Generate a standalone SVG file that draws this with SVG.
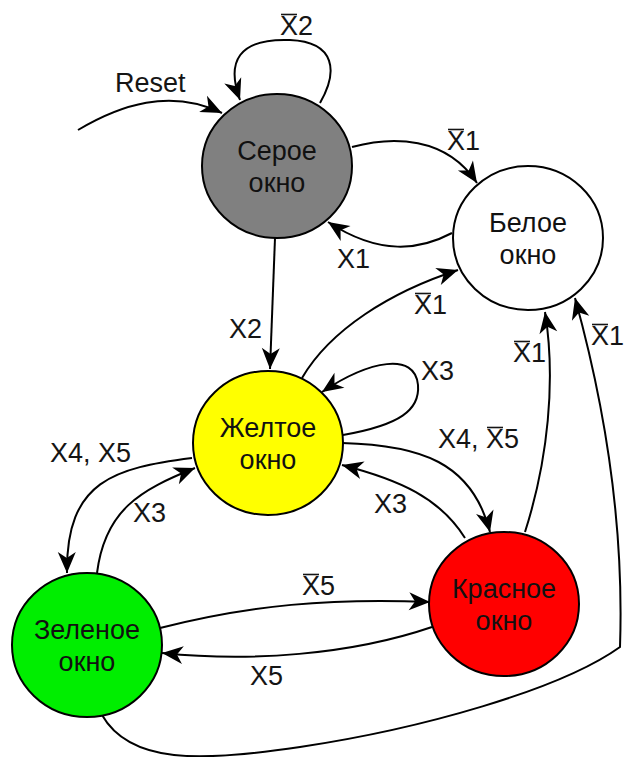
<svg xmlns="http://www.w3.org/2000/svg" width="624" height="757" viewBox="0 0 624 757">
  <style>
    .state { stroke: #000; stroke-width: 2; }
    .name { font-family: "Liberation Sans", Arial, sans-serif; font-size: 27px; fill: #111; text-anchor: middle; }
    .lbl { font-family: "Liberation Sans", Arial, sans-serif; font-size: 27px; fill: #151515; }
    .bar { stroke: #151515; stroke-width: 1.6; }
    .edge { fill: none; stroke: #000; stroke-width: 2; marker-end: url(#head); }
  </style>
  <defs>
    <marker id="head" markerUnits="userSpaceOnUse" markerWidth="26" markerHeight="22" viewBox="-22 -11 24 22" refX="0" refY="0" orient="auto">
      <path d="M0,0 L-21,-9 L-15,0 L-21,9 Z" fill="#000"/>
    </marker>
  </defs>

  <!-- transitions -->
  <g id="connectors">
    <path class="edge" d="M78,130 C120,105 170,88 222,113"/>
    <path class="edge" d="M320,103 C338,72 336,42 290,40 C238,38 226,62 240,100"/>
    <path class="edge" d="M352,147 C392,136 446,136 477,183"/>
    <path class="edge" d="M452,233 C420,250 380,256 328,222"/>
    <path class="edge" d="M275,238 L270,369"/>
    <path class="edge" d="M302,378 C330,330 390,292 458,270"/>
    <path class="edge" d="M343,435 C400,425 420,410 418,385 C415,352 370,360 322,392"/>
    <path class="edge" d="M342,443 C420,445 472,462 490,532"/>
    <path class="edge" d="M465,538 C440,498 400,480 342,465"/>
    <path class="edge" d="M192,458 C115,468 66,480 67,573"/>
    <path class="edge" d="M97,573 C105,510 140,490 195,468"/>
    <path class="edge" d="M160,628 C250,605 330,598 430,602"/>
    <path class="edge" d="M432,627 C350,655 250,662 162,653"/>
    <path class="edge" d="M525,532 C548,460 556,380 545,312"/>
    <path class="edge" d="M102,715 C130,764 200,762 300,747 C420,729 560,690 620,647 C624,530 606,410 575,298"/>
  </g>

  <!-- transition labels -->
  <g id="labels">
    <text class="lbl" x="115" y="92">Reset</text>
    <text class="lbl" x="280" y="35">X2</text>
    <line class="bar" x1="281" y1="14.5" x2="297" y2="14.5"/>
    <text class="lbl" x="447" y="150">X1</text>
    <line class="bar" x1="448" y1="129.5" x2="464" y2="129.5"/>
    <text class="lbl" x="337" y="268">X1</text>
    <text class="lbl" x="414" y="314">X1</text>
    <line class="bar" x1="415" y1="293.5" x2="431" y2="293.5"/>
    <text class="lbl" x="229" y="338">X2</text>
    <text class="lbl" x="421" y="380">X3</text>
    <text class="lbl" x="438" y="448">X4, X5</text>
    <line class="bar" x1="487" y1="427.5" x2="503" y2="427.5"/>
    <text class="lbl" x="374" y="513">X3</text>
    <text class="lbl" x="50" y="462">X4, X5</text>
    <text class="lbl" x="133" y="522">X3</text>
    <text class="lbl" x="302" y="595">X5</text>
    <line class="bar" x1="303" y1="574.5" x2="319" y2="574.5"/>
    <text class="lbl" x="250" y="685">X5</text>
    <text class="lbl" x="513" y="362">X1</text>
    <line class="bar" x1="514" y1="341.5" x2="530" y2="341.5"/>
    <text class="lbl" x="591" y="345">X1</text>
    <line class="bar" x1="592" y1="324.5" x2="608" y2="324.5"/>
  </g>

  <!-- states -->
  <g id="state-grey">
    <ellipse class="state" cx="277" cy="166" rx="75" ry="72" fill="#808080"/>
    <text class="name" x="277" y="160">Серое</text>
    <text class="name" x="277" y="192">окно</text>
  </g>
  <g id="state-white">
    <ellipse class="state" cx="528" cy="238" rx="75" ry="72" fill="#fff"/>
    <text class="name" x="528" y="232">Белое</text>
    <text class="name" x="528" y="264">окно</text>
  </g>
  <g id="state-yellow">
    <ellipse class="state" cx="268" cy="443" rx="75" ry="72" fill="#ffff00"/>
    <text class="name" x="268" y="437">Желтое</text>
    <text class="name" x="268" y="469">окно</text>
  </g>
  <g id="state-green">
    <ellipse class="state" cx="87" cy="645" rx="75" ry="72" fill="#00ee00"/>
    <text class="name" x="87" y="639">Зеленое</text>
    <text class="name" x="87" y="671">окно</text>
  </g>
  <g id="state-red">
    <ellipse class="state" cx="504" cy="604" rx="75" ry="72" fill="#ff0000"/>
    <text class="name" x="504" y="598">Красное</text>
    <text class="name" x="504" y="630">окно</text>
  </g>
</svg>
